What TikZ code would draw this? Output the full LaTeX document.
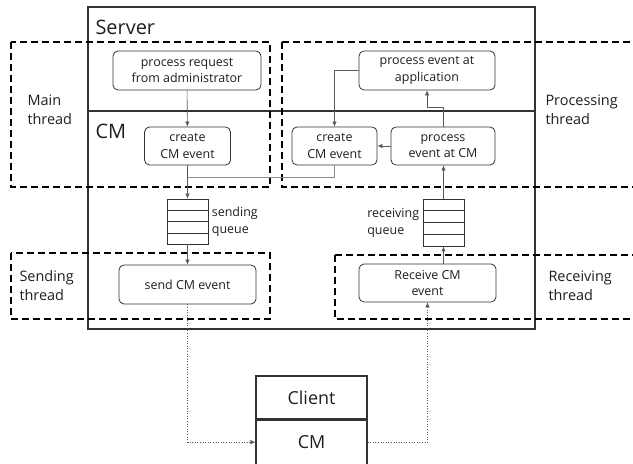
\documentclass[tikz,border=0pt]{standalone}
\usepackage{fontspec}
\setmainfont{Open Sans}
\usepackage{tikz}
\usetikzlibrary{arrows.meta, positioning, calc}
\definecolor{lineagris}{RGB}{90, 90, 90}
\definecolor{bordegris}{RGB}{50, 50, 50}
\definecolor{textogris}{RGB}{30, 30, 30}

\begin{document}
\begin{tikzpicture}[x=1bp, y=-1bp,
    caja/.style={draw=bordegris, rounded corners=5bp, line width=0.8bp, align=center,
        text=textogris, font=\fontsize{12.5}{16.5}\selectfont, inner sep=0pt},
    cola/.style={draw=bordegris, line width=0.8bp, minimum width=41bp, inner sep=0pt},
    hilo/.style={draw=black, dashed, line width=1.3bp, dash pattern=on 7bp off 4bp},
    etiqueta/.style={align=left, text=textogris, font=\fontsize{14.5}{19}\selectfont},
    flecha/.style={draw=lineagris, line width=0.6bp, -{Latex[length=5bp,width=4.5bp]}},
    punteada/.style={draw=lineagris, line width=0.6bp, dotted, -{Latex[length=5bp,width=4.5bp]}}]
    \useasboundingbox (0,0) rectangle (633,464);
    % Caja del servidor y separacion CM
    \draw[bordegris, line width=1.4bp] (88,7) rectangle (535,329);
    \draw[bordegris, line width=1.4bp] (88,111) -- (535,111);
    \node[anchor=west, text=textogris, font=\fontsize{20}{24}\selectfont] (server) at (92,27) {Server};
    \node[anchor=west, text=textogris, font=\fontsize{20}{24}\selectfont] (cm) at (92,131) {CM};
    % Hilos (cajas punteadas)
    \draw[hilo] (11,42) rectangle (270,187);
    \draw[hilo] (282,42) -- (640,42) (282,42) -- (282,187) -- (640,187);
    \draw[hilo] (11,253) rectangle (270,319);
    \draw[hilo] (335,255) -- (640,255) (335,255) -- (335,319) -- (640,319);
    \node[etiqueta, anchor=west] (main) at (24,110) {Main\\thread};
    \node[etiqueta, anchor=west] (proct) at (542,110) {Processing\\thread};
    \node[etiqueta, anchor=west] (sendt) at (16,286) {Sending\\thread};
    \node[etiqueta, anchor=west] (recvt) at (545,286) {Receiving\\thread};
    % Nodos del lado principal / envio
    \node[caja, minimum width=148bp, minimum height=39bp] (req) at (187,70.5) {process request\\from administrator};
    \node[caja, minimum width=86bp, minimum height=38bp] (createL) at (187.5,146) {create\\CM event};
    \node[cola, minimum height=45bp] (sendq) at (187.5,221.5) {};
    \node[caja, minimum width=137bp, minimum height=39bp] (send) at (187.5,284.5) {send CM event};
    % Nodos del lado de procesamiento / recepcion
    \node[caja, minimum width=136bp, minimum height=39bp] (app) at (427,70.5) {process event at\\application};
    \node[caja, minimum width=85bp, minimum height=38bp] (createR) at (334.5,146) {create\\CM event};
    \node[caja, minimum width=104bp, minimum height=38bp] (proc) at (443,146) {process\\event at CM};
    \node[cola, minimum height=47bp] (recvq) at (443.5,222.5) {};
    \node[caja, minimum width=137bp, minimum height=38bp] (recv) at (427.5,283) {Receive CM\\event};
    % Divisiones de las colas
    \foreach \i in {1,2,3} {
        \draw[bordegris, line width=0.8bp] ($(sendq.north west)!\i/4!(sendq.south west)$) -- ($(sendq.north east)!\i/4!(sendq.south east)$);
        \draw[bordegris, line width=0.8bp] ($(recvq.north west)!\i/4!(recvq.south west)$) -- ($(recvq.north east)!\i/4!(recvq.south east)$);
    }
    \node[etiqueta, font=\fontsize{12.5}{17}\selectfont, anchor=west] (sendql) at (sendq.east) {sending\\queue};
    \node[etiqueta, font=\fontsize{12.5}{17}\selectfont, anchor=east] (recvql) at (recvq.west) {receiving\\queue};
    % Cliente
    \node[draw=bordegris, line width=1.2bp, minimum width=111bp, minimum height=43bp, inner sep=0pt,
        font=\fontsize{18}{22}\selectfont, text=textogris] (client) at (311.5,397.5) {Client};
    \node[draw=bordegris, line width=1.2bp, minimum width=111bp, minimum height=44bp, inner sep=0pt,
        font=\fontsize{18}{22}\selectfont, text=textogris, below=0pt of client] (clientcm) {CM};
    % Flechas
    \coordinate (union) at (187.5,177);
    \draw[flecha] (req) -- (createL);
    \draw[flecha] (createL) -- (sendq);
    \draw[draw=lineagris!70, line width=0.6bp] (createR.south) |- (union);
    \draw[flecha] (sendq) -- (send);
    \draw[flecha] (recv.north -| recvq.south) -- (recvq.south);
    \draw[flecha] (recvq.north) -- (proc.south -| recvq.north);
    \draw[flecha] (proc) -- (createR);
    \draw[flecha] (proc.north) -- ++(0,-19) -| (app.south);
    \draw[flecha] (app.west) -| (createR.north);
    \draw[punteada] (send.south) |- (clientcm.west);
    \draw[punteada] (clientcm.east) -| (recv.south);
\end{tikzpicture}
\end{document}
